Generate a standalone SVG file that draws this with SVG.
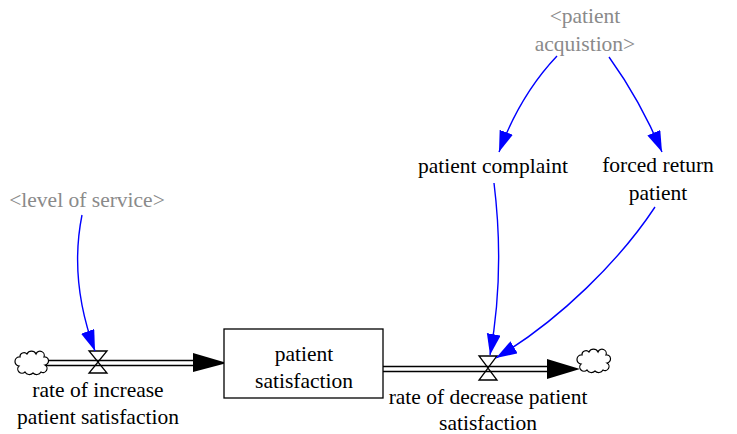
<svg xmlns="http://www.w3.org/2000/svg" width="737" height="434" viewBox="0 0 737 434">
  <style>
    text { font-family: 'Times New Roman', Times, 'Liberation Serif', 'Noto Serif', 'DejaVu Serif', FreeSerif, serif; font-size: 21.5px; text-anchor: middle; fill: #000; }
    text.shadow { fill: #8a8a8a; }
    .link { fill: none; stroke: #0000ff; stroke-width: 1.4; marker-end: url(#blueHead); }
    .pipeOuter { stroke: #000; stroke-width: 6.5; fill: none; }
    .pipeInner { stroke: #fff; stroke-width: 3.3; fill: none; }
    .valve { fill: none; stroke: #000; stroke-width: 1.3; }
    .cloud { fill: #fff; stroke: #000; stroke-width: 1.2; }
    .stock { fill: #fff; stroke: #000; stroke-width: 1.3; }
  </style>
  <defs>
    <marker id="blueHead" markerUnits="userSpaceOnUse" markerWidth="24" markerHeight="16" refX="21" refY="7" orient="auto">
      <path d="M0,0 L21,7 L0,14 Z" fill="#0000ff"/>
    </marker>
    <path id="cloudShape" d="M20,357 a4,4 0 0 1 7,-3 a5,5 0 0 1 9,0 a4,4 0 0 1 8,3 a4,4 0 0 1 1,8 a4,4 0 0 1 -4,7 a5,5 0 0 1 -8,1 a5,5 0 0 1 -8,-1 a4,4 0 0 1 -6,-6 a4,4 0 0 1 1,-9 z"/>
  </defs>

  <!-- flows: pipes, arrowheads and valves -->
  <g id="flows">
    <g id="flow-increase">
      <line class="pipeOuter" x1="45" y1="363" x2="196" y2="363"/>
      <line class="pipeInner" x1="44" y1="363" x2="197" y2="363"/>
      <path d="M193,353 L227,363 L193,372 Z" fill="#000"/>
      <path class="valve" d="M89,351 L107,351 L98,362 Z M89,373 L107,373 L98,362 Z"/>
    </g>
    <g id="flow-decrease">
      <line class="pipeOuter" x1="383" y1="369" x2="550" y2="369"/>
      <line class="pipeInner" x1="383" y1="369" x2="551" y2="369"/>
      <path d="M547,359 L580,369 L547,379 Z" fill="#000"/>
      <path class="valve" d="M479,356 L497,356 L488,368 Z M479,380 L497,380 L488,368 Z"/>
    </g>
  </g>

  <!-- sources and sinks -->
  <g id="cloud-source"><use href="#cloudShape" class="cloud"/></g>
  <g id="cloud-sink"><use href="#cloudShape" class="cloud" transform="translate(562,-2)"/></g>

  <!-- stock -->
  <g id="patient-satisfaction">
    <rect class="stock" x="224" y="329" width="159" height="69"/>
    <text x="304" y="361">patient</text>
    <text x="304" y="388">satisfaction</text>
  </g>

  <!-- variables -->
  <g id="rate-of-increase">
    <text x="98" y="397">rate of increase</text>
    <text x="98" y="424">patient satisfaction</text>
  </g>
  <g id="rate-of-decrease">
    <text x="488" y="404">rate of decrease patient</text>
    <text x="488" y="430">satisfaction</text>
  </g>
  <g id="level-of-service">
    <text class="shadow" x="87" y="207">&lt;level of service&gt;</text>
  </g>
  <g id="patient-acquistion">
    <text class="shadow" x="585" y="23">&lt;patient</text>
    <text class="shadow" x="585" y="51">acquistion&gt;</text>
  </g>
  <g id="patient-complaint">
    <text x="493" y="173">patient complaint</text>
  </g>
  <g id="forced-return-patient">
    <text x="658" y="172">forced return</text>
    <text x="658" y="200">patient</text>
  </g>

  <!-- causal links -->
  <g id="connectors">
    <path class="link" d="M82,215 C74,255 76,300 95,351"/>
    <path class="link" d="M557,56 Q520,95 499,152"/>
    <path class="link" d="M609,57 Q640,100 662,152"/>
    <path class="link" d="M494,183 C501,240 500,300 490,355"/>
    <path class="link" d="M655,207 C620,260 560,320 496,358"/>
  </g>
</svg>
